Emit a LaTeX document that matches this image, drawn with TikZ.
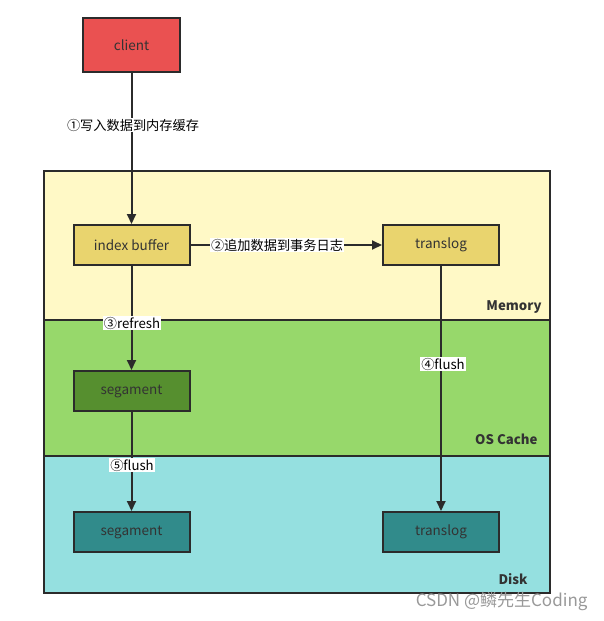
\documentclass[tikz,border=0pt]{standalone}
\usepackage{fontspec}
\setmainfont{Noto Sans CJK SC}
\usetikzlibrary{arrows.meta}
\definecolor{linec}{HTML}{2B2B2B}
\definecolor{clientc}{HTML}{EA5151}
\definecolor{memc}{HTML}{FFF9C6}
\definecolor{osc}{HTML}{97D86B}
\definecolor{diskc}{HTML}{95E0E0}
\definecolor{yboxc}{HTML}{E9D46E}
\definecolor{gboxc}{HTML}{568F2F}
\definecolor{tboxc}{HTML}{318B8B}
\definecolor{txtc}{HTML}{333333}
\newcommand{\dn}[1]{\raisebox{-1.5pt}{#1}}
\begin{document}
\begin{tikzpicture}[x=1pt,y=-1pt,
  box/.style={draw=linec,line width=2pt,minimum width=116pt,minimum height=40pt,inner sep=0pt,font=\fontsize{13.5}{15}\selectfont,text=txtc},
  layer/.style={draw=linec,line width=1.8pt},
  conn/.style={draw=linec,line width=2pt,-{Triangle[length=10pt,width=9pt]}},
  lab/.style={fill=white,inner sep=1pt,font=\fontsize{13.2}{15}\selectfont,text=black},
  layname/.style={anchor=east,font=\bfseries\fontsize{13.2}{15}\selectfont,text=txtc}]
\useasboundingbox (0,0) rectangle (604,621);
\fill[white] (0,0) rectangle (604,621);
\path[layer,fill=memc] (44,171) rectangle (550,320);
\path[layer,fill=osc] (44,320) rectangle (550,456);
\path[layer,fill=diskc] (44,456) rectangle (550,593);
\node[layname] (mem) at (545,307) {Memory};
\node[layname] (osl) at (541,439) {OS Cache};
\node[layname] (dsk) at (531,579) {Disk};
\node[box,fill=clientc,minimum width=97pt,minimum height=54pt] (client) at (131.5,45) {\dn{client}};
\node[box,fill=yboxc] (ib) at (131.5,245) {\dn{index buffer}};
\node[box,fill=yboxc] (tl) at (441,245) {\dn{translog}};
\node[box,fill=gboxc] (sg) at (131.5,391) {\dn{segament}};
\node[box,fill=tboxc] (sd) at (131.5,532) {\dn{segament}};
\node[box,fill=tboxc] (td) at (441,532) {\dn{translog}};
\draw[conn] (client) -- (ib);
\draw[conn] (ib) -- (tl);
\draw[conn] (ib) -- (sg);
\draw[conn] (tl) -- (td);
\draw[conn] (sg) -- (sd);
\node[lab] (l1) at (133,125) {①写入数据到内存缓存};
\node[lab] (l2) at (277,245) {②追加数据到事务日志};
\node[lab] (l3) at (132,323) {③refresh};
\node[lab] (l4) at (443,364) {④flush};
\node[lab] (l5) at (132,465) {⑤flush};
\node[font=\fontsize{17}{19}\selectfont,text=black!40,anchor=east] (wm) at (591,601) {CSDN @鳞先生Coding};
\end{tikzpicture}
\end{document}
